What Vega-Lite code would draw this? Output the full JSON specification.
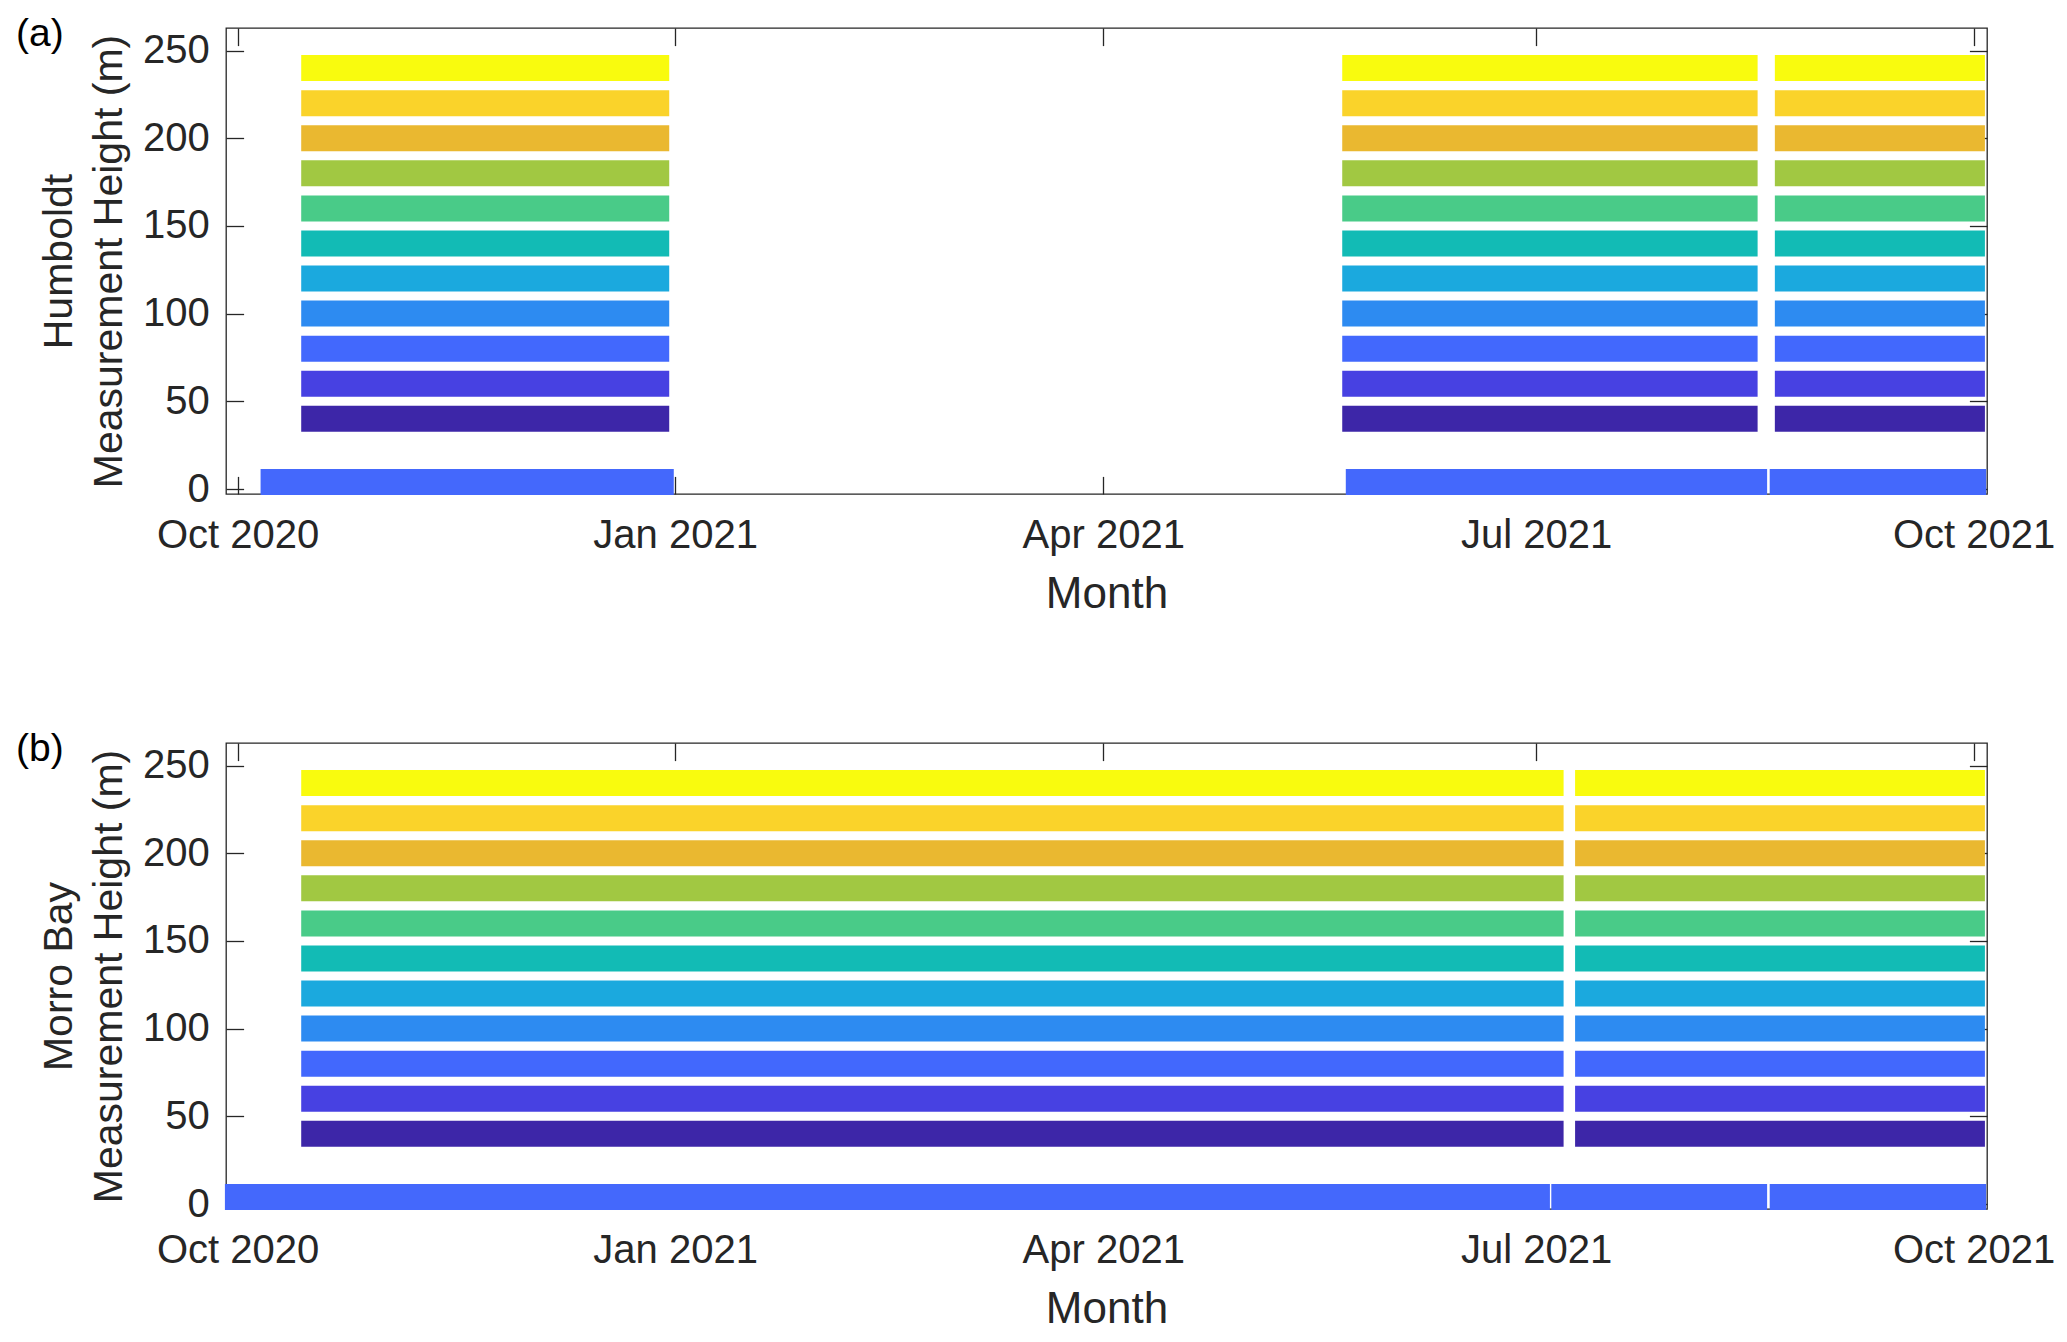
{
  "$schema": "https://vega.github.io/schema/vega-lite/v6.json",
  "background": "white",
  "padding": {"left": 15, "top": 14, "right": 0, "bottom": 0},
  "bounds": "flush",
  "spacing": 249,
  "config": {
    "font": "Liberation Sans",
    "view": {"stroke": "#262626", "strokeWidth": 1.3},
    "axis": {
      "labelFont": "Liberation Sans",
      "titleFont": "Liberation Sans",
      "labelColor": "#262626",
      "titleColor": "#262626",
      "tickColor": "#262626",
      "tickWidth": 1.3,
      "domain": false,
      "grid": false,
      "titleFontWeight": "normal",
      "labelFontSize": 40
    }
  },
  "datasets": {
    "hum": [
      {"height": 240, "start": "2020-10-14T09:00", "end": "2020-12-30T18:00"},
      {"height": 240, "start": "2021-05-21T06:00", "end": "2021-08-16T14:00"},
      {"height": 240, "start": "2021-08-20T05:00", "end": "2021-10-03T09:00"},
      {"height": 220, "start": "2020-10-14T09:00", "end": "2020-12-30T18:00"},
      {"height": 220, "start": "2021-05-21T06:00", "end": "2021-08-16T14:00"},
      {"height": 220, "start": "2021-08-20T05:00", "end": "2021-10-03T09:00"},
      {"height": 200, "start": "2020-10-14T09:00", "end": "2020-12-30T18:00"},
      {"height": 200, "start": "2021-05-21T06:00", "end": "2021-08-16T14:00"},
      {"height": 200, "start": "2021-08-20T05:00", "end": "2021-10-03T09:00"},
      {"height": 180, "start": "2020-10-14T09:00", "end": "2020-12-30T18:00"},
      {"height": 180, "start": "2021-05-21T06:00", "end": "2021-08-16T14:00"},
      {"height": 180, "start": "2021-08-20T05:00", "end": "2021-10-03T09:00"},
      {"height": 160, "start": "2020-10-14T09:00", "end": "2020-12-30T18:00"},
      {"height": 160, "start": "2021-05-21T06:00", "end": "2021-08-16T14:00"},
      {"height": 160, "start": "2021-08-20T05:00", "end": "2021-10-03T09:00"},
      {"height": 140, "start": "2020-10-14T09:00", "end": "2020-12-30T18:00"},
      {"height": 140, "start": "2021-05-21T06:00", "end": "2021-08-16T14:00"},
      {"height": 140, "start": "2021-08-20T05:00", "end": "2021-10-03T09:00"},
      {"height": 120, "start": "2020-10-14T09:00", "end": "2020-12-30T18:00"},
      {"height": 120, "start": "2021-05-21T06:00", "end": "2021-08-16T14:00"},
      {"height": 120, "start": "2021-08-20T05:00", "end": "2021-10-03T09:00"},
      {"height": 100, "start": "2020-10-14T09:00", "end": "2020-12-30T18:00"},
      {"height": 100, "start": "2021-05-21T06:00", "end": "2021-08-16T14:00"},
      {"height": 100, "start": "2021-08-20T05:00", "end": "2021-10-03T09:00"},
      {"height": 80, "start": "2020-10-14T09:00", "end": "2020-12-30T18:00"},
      {"height": 80, "start": "2021-05-21T06:00", "end": "2021-08-16T14:00"},
      {"height": 80, "start": "2021-08-20T05:00", "end": "2021-10-03T09:00"},
      {"height": 60, "start": "2020-10-14T09:00", "end": "2020-12-30T18:00"},
      {"height": 60, "start": "2021-05-21T06:00", "end": "2021-08-16T14:00"},
      {"height": 60, "start": "2021-08-20T05:00", "end": "2021-10-03T09:00"},
      {"height": 40, "start": "2020-10-14T09:00", "end": "2020-12-30T18:00"},
      {"height": 40, "start": "2021-05-21T06:00", "end": "2021-08-16T14:00"},
      {"height": 40, "start": "2021-08-20T05:00", "end": "2021-10-03T09:00"},
      {"height": 4, "start": "2020-10-05T20:00", "end": "2020-12-31T17:00"},
      {"height": 4, "start": "2021-05-22T00:00", "end": "2021-08-18T14:00"},
      {"height": 4, "start": "2021-08-19T03:00", "end": "2021-10-03T15:00"}
    ],
    "mor": [
      {"height": 240, "start": "2020-10-14T09:00", "end": "2021-07-06T19:00"},
      {"height": 240, "start": "2021-07-09T05:00", "end": "2021-10-03T09:00"},
      {"height": 220, "start": "2020-10-14T09:00", "end": "2021-07-06T19:00"},
      {"height": 220, "start": "2021-07-09T05:00", "end": "2021-10-03T09:00"},
      {"height": 200, "start": "2020-10-14T09:00", "end": "2021-07-06T19:00"},
      {"height": 200, "start": "2021-07-09T05:00", "end": "2021-10-03T09:00"},
      {"height": 180, "start": "2020-10-14T09:00", "end": "2021-07-06T19:00"},
      {"height": 180, "start": "2021-07-09T05:00", "end": "2021-10-03T09:00"},
      {"height": 160, "start": "2020-10-14T09:00", "end": "2021-07-06T19:00"},
      {"height": 160, "start": "2021-07-09T05:00", "end": "2021-10-03T09:00"},
      {"height": 140, "start": "2020-10-14T09:00", "end": "2021-07-06T19:00"},
      {"height": 140, "start": "2021-07-09T05:00", "end": "2021-10-03T09:00"},
      {"height": 120, "start": "2020-10-14T09:00", "end": "2021-07-06T19:00"},
      {"height": 120, "start": "2021-07-09T05:00", "end": "2021-10-03T09:00"},
      {"height": 100, "start": "2020-10-14T09:00", "end": "2021-07-06T19:00"},
      {"height": 100, "start": "2021-07-09T05:00", "end": "2021-10-03T09:00"},
      {"height": 80, "start": "2020-10-14T09:00", "end": "2021-07-06T19:00"},
      {"height": 80, "start": "2021-07-09T05:00", "end": "2021-10-03T09:00"},
      {"height": 60, "start": "2020-10-14T09:00", "end": "2021-07-06T19:00"},
      {"height": 60, "start": "2021-07-09T05:00", "end": "2021-10-03T09:00"},
      {"height": 40, "start": "2020-10-14T09:00", "end": "2021-07-06T19:00"},
      {"height": 40, "start": "2021-07-09T05:00", "end": "2021-10-03T09:00"},
      {"height": 4, "start": "2020-09-28T08:00", "end": "2021-07-03T22:00"},
      {"height": 4, "start": "2021-07-04T05:00", "end": "2021-08-18T14:00"},
      {"height": 4, "start": "2021-08-19T03:00", "end": "2021-10-03T15:00"}
    ]
  },
  "vconcat": [
    {
      "width": 1761,
      "height": 466,
      "title": {"text": "(a)", "anchor": "start", "frame": "group", "orient": "top", "offset": -58, "dx": -210, "baseline": "alphabetic", "fontSize": 39, "font": "Liberation Sans", "fontWeight": "normal", "color": "#000000"},
      "data": {"name": "hum"},
      "layer": [
        {
          "mark": {"type": "bar", "height": 26},
          "encoding": {
            "x": {"field": "start", "type": "temporal",
              "scale": {"domain": [{"year": 2020, "month": 9, "date": 28, "hours": 13, "minutes": 30}, {"year": 2021, "month": 10, "date": 3, "hours": 19, "minutes": 30}]},
              "axis": {"orient": "bottom", "values": [{"year": 2020, "month": 10, "date": 1}, {"year": 2021, "month": 1, "date": 1}, {"year": 2021, "month": 4, "date": 1}, {"year": 2021, "month": 7, "date": 1}, {"year": 2021, "month": 10, "date": 1}], "format": "%b %Y", "labelFlush": false, "labelOverlap": false, "tickSize": -17.6, "labelPadding": 39, "title": "Month", "titleFontSize": 44, "titleBaseline": "alphabetic", "titleY": 113}},
            "x2": {"field": "end"},
            "y": {"field": "height", "type": "quantitative", "scale": {"domain": [0, 260], "nice": false, "zero": false},
              "axis": {"orient": "left", "values": [0, 50, 100, 150, 200, 250], "tickSize": -17.6, "labelPadding": 34.3, "title": ["Humboldt", "Measurement Height (m)"], "titleFontSize": 41, "titleLineHeight": 50, "titleBaseline": "alphabetic", "titleX": -154.5, "titleAngle": 270}},
            "color": {"field": "height", "type": "ordinal", "legend": null,
              "scale": {"domain": [4, 40, 60, 80, 100, 120, 140, 160, 180, 200, 220, 240], "range": ["#4468FC", "#3D26A8", "#4741E2", "#4268FD", "#2D8BF1", "#1BA9DE", "#12BBB5", "#49CB88", "#A1C842", "#EAB830", "#FAD32A", "#F9FB0E"]}}
          }
        },
        {
          "mark": {"type": "bar", "height": 26, "opacity": 0},
          "encoding": {
            "x": {"field": "start", "type": "temporal",
              "axis": {"orient": "top", "values": [{"year": 2020, "month": 10, "date": 1}, {"year": 2021, "month": 1, "date": 1}, {"year": 2021, "month": 4, "date": 1}, {"year": 2021, "month": 7, "date": 1}, {"year": 2021, "month": 10, "date": 1}], "labels": false, "tickSize": -17.6, "title": null}},
            "x2": {"field": "end"},
            "y": {"field": "height", "type": "quantitative",
              "axis": {"orient": "right", "values": [0, 50, 100, 150, 200, 250], "labels": false, "tickSize": -17.6, "title": null}}
          }
        }
      ],
      "resolve": {"axis": {"x": "independent", "y": "independent"}}
    },
    {
      "width": 1761,
      "height": 466,
      "title": {"text": "(b)", "anchor": "start", "frame": "group", "orient": "top", "offset": -58, "dx": -210, "baseline": "alphabetic", "fontSize": 39, "font": "Liberation Sans", "fontWeight": "normal", "color": "#000000"},
      "data": {"name": "mor"},
      "layer": [
        {
          "mark": {"type": "bar", "height": 26},
          "encoding": {
            "x": {"field": "start", "type": "temporal",
              "scale": {"domain": [{"year": 2020, "month": 9, "date": 28, "hours": 13, "minutes": 30}, {"year": 2021, "month": 10, "date": 3, "hours": 19, "minutes": 30}]},
              "axis": {"orient": "bottom", "values": [{"year": 2020, "month": 10, "date": 1}, {"year": 2021, "month": 1, "date": 1}, {"year": 2021, "month": 4, "date": 1}, {"year": 2021, "month": 7, "date": 1}, {"year": 2021, "month": 10, "date": 1}], "format": "%b %Y", "labelFlush": false, "labelOverlap": false, "tickSize": -17.6, "labelPadding": 39, "title": "Month", "titleFontSize": 44, "titleBaseline": "alphabetic", "titleY": 113}},
            "x2": {"field": "end"},
            "y": {"field": "height", "type": "quantitative", "scale": {"domain": [0, 260], "nice": false, "zero": false},
              "axis": {"orient": "left", "values": [0, 50, 100, 150, 200, 250], "tickSize": -17.6, "labelPadding": 34.3, "title": ["Morro Bay", "Measurement Height (m)"], "titleFontSize": 41, "titleLineHeight": 50, "titleBaseline": "alphabetic", "titleX": -154.5, "titleAngle": 270}},
            "color": {"field": "height", "type": "ordinal", "legend": null,
              "scale": {"domain": [4, 40, 60, 80, 100, 120, 140, 160, 180, 200, 220, 240], "range": ["#4468FC", "#3D26A8", "#4741E2", "#4268FD", "#2D8BF1", "#1BA9DE", "#12BBB5", "#49CB88", "#A1C842", "#EAB830", "#FAD32A", "#F9FB0E"]}}
          }
        },
        {
          "mark": {"type": "bar", "height": 26, "opacity": 0},
          "encoding": {
            "x": {"field": "start", "type": "temporal",
              "axis": {"orient": "top", "values": [{"year": 2020, "month": 10, "date": 1}, {"year": 2021, "month": 1, "date": 1}, {"year": 2021, "month": 4, "date": 1}, {"year": 2021, "month": 7, "date": 1}, {"year": 2021, "month": 10, "date": 1}], "labels": false, "tickSize": -17.6, "title": null}},
            "x2": {"field": "end"},
            "y": {"field": "height", "type": "quantitative",
              "axis": {"orient": "right", "values": [0, 50, 100, 150, 200, 250], "labels": false, "tickSize": -17.6, "title": null}}
          }
        }
      ],
      "resolve": {"axis": {"x": "independent", "y": "independent"}}
    }
  ]
}
